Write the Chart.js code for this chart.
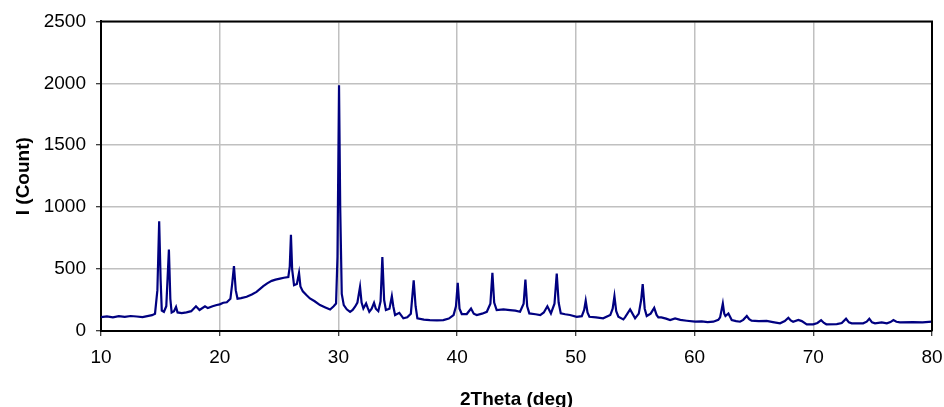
<!DOCTYPE html>
<html>
<head>
<meta charset="utf-8">
<script src="https://cdn.jsdelivr.net/npm/chart.js@4.4.0/dist/chart.umd.min.js"></script>
<style>
  html, body { margin: 0; padding: 0; background: #fff; }
  #wrap { width: 944px; height: 407px; position: relative; }
</style>
</head>
<body>
<div id="wrap"><canvas id="xrd"></canvas></div>
<script>
// 2theta positions (deg)
const twoTheta = [
  10.0, 10.5, 11.0, 11.5, 12.0, 12.5, 13.0, 13.5, 14.0, 14.3,
  14.55, 14.75, 14.9, 15.02, 15.12, 15.3, 15.5, 15.72, 15.84, 15.95,
  16.15, 16.32, 16.45, 16.8, 17.2, 17.6, 18.0, 18.3, 18.76, 19.0,
  19.4, 19.75, 20.0, 20.3, 20.6, 20.9, 21.05, 21.2, 21.35, 21.5,
  21.8, 22.27, 22.7, 23.1, 23.4, 23.67, 24.0, 24.38, 24.7, 25.08,
  25.4, 25.78, 25.9, 26.0, 26.1, 26.26, 26.5, 26.68, 26.8, 27.0,
  27.3, 27.6, 28.0, 28.45, 28.9, 29.3, 29.6, 29.8, 29.92, 30.05,
  30.15, 30.28, 30.45, 30.7, 30.98, 31.2, 31.4, 31.6, 31.82, 31.95,
  32.1, 32.33, 32.45, 32.6, 32.8, 33.0, 33.15, 33.36, 33.55, 33.7,
  33.85, 34.0, 34.3, 34.5, 34.62, 34.77, 35.13, 35.47, 35.8, 36.1,
  36.34, 36.5, 36.65, 37.2, 37.7, 38.3, 38.84, 39.3, 39.7, 39.9,
  40.05, 40.2, 40.39, 40.81, 41.17, 41.4, 41.65, 42.1, 42.5, 42.8,
  42.97, 43.12, 43.33, 43.9, 44.45, 44.9, 45.3, 45.6, 45.75, 45.9,
  46.08, 46.6, 47.0, 47.3, 47.6, 47.9, 48.2, 48.39, 48.55, 48.73,
  49.1, 49.5, 50.07, 50.5, 50.7, 50.83, 50.98, 51.14, 51.7, 52.3,
  52.9, 53.1, 53.25, 53.4, 53.58, 54.0, 54.14, 54.57, 54.99, 55.3,
  55.5, 55.63, 55.8, 55.97, 56.3, 56.6, 56.8, 56.95, 57.2, 57.6,
  57.94, 58.36, 58.8, 59.34, 60.04, 60.6, 61.1, 61.58, 62.0, 62.15,
  62.38, 62.5, 62.6, 62.85, 63.13, 63.5, 63.83, 64.1, 64.4, 64.6,
  64.8, 65.4, 66.07, 66.6, 67.2, 67.6, 67.9, 68.1, 68.3, 68.74,
  69.03, 69.45, 70.0, 70.35, 70.66, 70.9, 71.1, 71.98, 72.4, 72.76,
  73.0, 73.24, 74.2, 74.5, 74.72, 74.95, 75.2, 75.76, 76.2, 76.5,
  76.75, 77.0, 77.3, 78.4, 79.2, 80.0
];

// intensity (counts) at each position
const counts = [
  112, 118, 110, 120, 114, 121, 117, 112, 122, 128,
  140, 330, 887, 420, 165, 155, 200, 657, 260, 150,
  160, 195, 150, 145, 150, 160, 200, 170, 200, 185,
  200, 210, 215, 228, 232, 260, 380, 525, 330, 260,
  265, 276, 295, 316, 340, 362, 385, 405, 415, 423,
  430, 436, 520, 777, 500, 370, 380, 469, 360, 320,
  290, 263, 240, 209, 190, 174, 200, 222, 600, 1985,
  1000, 300, 209, 175, 155, 170, 196, 230, 356, 230,
  182, 222, 190, 155, 180, 228, 180, 160, 240, 597,
  250, 169, 180, 281, 200, 129, 147, 102, 110, 140,
  410, 200, 102, 92, 88, 86, 88, 100, 129, 200,
  389, 180, 137, 137, 182, 140, 129, 140, 155, 220,
  469, 230, 169, 175, 169, 165, 155, 220, 415, 200,
  142, 135, 129, 150, 200, 142, 220, 464, 230, 142,
  135, 129, 115, 120, 170, 244, 150, 115, 110, 102,
  129, 180, 281, 160, 115, 94, 110, 174, 102, 140,
  250, 378, 180, 121, 140, 187, 130, 110, 110, 100,
  88, 102, 90, 83, 75, 78, 72, 75, 90, 110,
  222, 140, 121, 142, 88, 80, 75, 90, 121, 95,
  83, 80, 81, 72, 62, 80, 107, 85, 75, 89,
  80, 54, 54, 65, 88, 65, 54, 56, 65, 99,
  70, 62, 62, 75, 99, 70, 62, 70, 62, 72,
  88, 75, 70, 72, 70, 75
];

const xTicks = [10, 20, 30, 40, 50, 60, 70, 80];
const yTicks = [0, 500, 1000, 1500, 2000, 2500];

const points = twoTheta.map((t, i) => ({ x: t, y: counts[i] }));

const tickFont = { family: "'Liberation Sans', Arial, sans-serif", size: 19 };
const titleFont = { family: "'Liberation Sans', Arial, sans-serif", size: 19, weight: 'bold' };

// black frame on top and right of the plot area
const frame = {
  id: 'frame',
  afterDraw(chart) {
    const { ctx, chartArea: a } = chart;
    ctx.save();
    ctx.strokeStyle = '#000';
    ctx.lineWidth = 2;
    ctx.beginPath();
    ctx.moveTo(a.left, a.top);
    ctx.lineTo(a.right, a.top);
    ctx.lineTo(a.right, a.bottom);
    ctx.stroke();
    ctx.restore();
  }
};

new Chart(document.getElementById('xrd'), {
  type: 'line',
  data: {
    datasets: [{
      data: points,
      borderColor: '#000080',
      borderWidth: 2.2,
      pointRadius: 0,
      tension: 0,
      fill: false
    }]
  },
  options: {
    responsive: true,
    maintainAspectRatio: false,
    animation: false,
    layout: { padding: { top: 20, right: 1, bottom: 0, left: 0 } },
    plugins: { legend: { display: false }, tooltip: { enabled: false } },
    scales: {
      x: {
        type: 'linear',
        min: 10,
        max: 80,
        afterBuildTicks: s => { s.ticks = xTicks.map(v => ({ value: v })); },
        afterFit: s => { s.height = 76; s.paddingLeft = 0; s.paddingRight = 12; },
        grid: { color: '#c0c0c0', lineWidth: 1.5, tickColor: '#000', tickLength: 5, tickWidth: 1 },
        border: { color: '#000', width: 2 },
        ticks: { color: '#000', font: tickFont, padding: 10, maxRotation: 0, callback: v => String(v) },
        title: { display: true, text: '2Theta (deg)', color: '#000', font: titleFont, padding: { top: 0, bottom: -4 } }
      },
      y: {
        min: 0,
        max: 2500,
        afterBuildTicks: s => { s.ticks = yTicks.map(v => ({ value: v })); },
        afterFit: s => { s.width = 101; },
        grid: { color: '#c0c0c0', lineWidth: 1.5, tickColor: '#000', tickLength: 5, tickWidth: 1 },
        border: { color: '#000', width: 2 },
        ticks: { color: '#000', font: tickFont, padding: 10, callback: v => String(v) },
        title: { display: true, text: 'I (Count)', color: '#000', font: titleFont, padding: { top: 12, bottom: 0 } }
      }
    }
  },
  plugins: [frame]
});
</script>
</body>
</html>
